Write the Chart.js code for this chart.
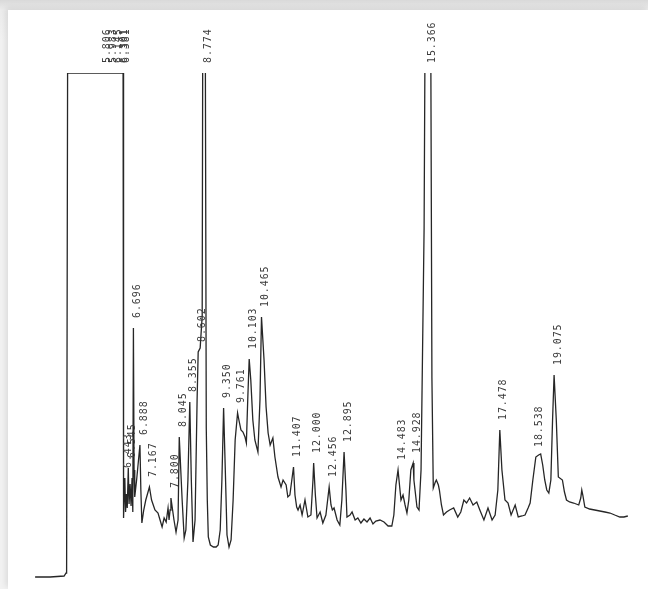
<!DOCTYPE html>
<html>
<head>
<meta charset="utf-8">
<script src="https://cdn.jsdelivr.net/npm/chart.js@4"></script>
<style>
  html, body { margin:0; padding:0; width:648px; height:589px; overflow:hidden; }
  body { background: linear-gradient(180deg, #d9d9d9 0px, #ececec 10px, #f2f2f2 40px); position:relative; }
  #panel { position:absolute; left:8px; top:10px; width:640px; height:579px; background:#fff;
           box-shadow: -2px -2px 6px rgba(0,0,0,0.10); }
  #c { position:absolute; left:0; top:0; }
</style>
</head>
<body>
<div id="panel"></div>
<canvas id="c" width="648" height="589"></canvas>
<script>
// Retention time (min)
const times = [
  3.803, 4.245, 4.656, 4.715, 4.730, 4.759, 6.362, 6.392,
  6.406, 6.421, 6.443, 6.465, 6.490, 6.515, 6.545, 6.568, 6.598, 6.627, 6.656, 6.678,
  6.696, 6.715, 6.735, 6.790, 6.888, 6.915, 6.945, 7.000, 7.060, 7.167, 7.230, 7.330,
  7.420, 7.480, 7.540, 7.600, 7.660, 7.715, 7.745, 7.775, 7.800, 7.890, 7.950, 8.010,
  8.045, 8.130, 8.190, 8.240, 8.300, 8.355, 8.400, 8.450, 8.510, 8.570, 8.602, 8.660,
  8.720, 8.745, 8.774, 8.800, 8.840, 8.870, 8.900, 8.960, 9.050, 9.130, 9.190, 9.250,
  9.300, 9.350, 9.400, 9.450, 9.510, 9.570, 9.630, 9.690, 9.761, 9.800, 9.860, 9.920,
  9.980, 10.020, 10.060, 10.103, 10.150, 10.210, 10.270, 10.360, 10.420, 10.465, 10.540, 10.600,
  10.660, 10.720, 10.800, 10.860, 10.950, 11.040, 11.100, 11.190, 11.240, 11.300, 11.407, 11.450,
  11.500, 11.540, 11.600, 11.660, 11.745, 11.830, 11.920, 11.980, 12.000, 12.050, 12.100, 12.190,
  12.270, 12.360, 12.456, 12.510, 12.550, 12.600, 12.690, 12.770, 12.830, 12.895, 12.950, 12.980,
  13.070, 13.130, 13.220, 13.300, 13.390, 13.480, 13.570, 13.660, 13.745, 13.830, 13.950, 14.070,
  14.190, 14.300, 14.360, 14.420, 14.483, 14.540, 14.570, 14.630, 14.690, 14.745, 14.800, 14.860,
  14.928, 14.950, 15.040, 15.100, 15.160, 15.250, 15.300, 15.366, 15.430, 15.480, 15.520, 15.580,
  15.610, 15.670, 15.700, 15.760, 15.820, 15.910, 16.000, 16.120, 16.240, 16.330, 16.420, 16.500,
  16.590, 16.690, 16.800, 16.890, 17.010, 17.130, 17.250, 17.340, 17.420, 17.478, 17.540, 17.630,
  17.720, 17.810, 17.930, 18.020, 18.130, 18.220, 18.310, 18.370, 18.450, 18.538, 18.620, 18.680,
  18.740, 18.800, 18.860, 18.920, 18.980, 19.030, 19.075, 19.140, 19.200, 19.320, 19.380, 19.440,
  19.530, 19.650, 19.800, 19.860, 19.890, 19.920, 19.980, 20.120, 20.270, 20.420, 20.570, 20.720,
  20.860, 21.010, 21.130, 21.245
];
// Detector response (arbitrary units)
const signal = [
  1, 1, 2, 5, 8, 505, 505, 505,
  60, 78, 100, 66, 84, 70, 110, 74, 94, 72, 100, 66,
  250, 108, 81, 98, 133, 88, 55, 68, 78, 91, 78, 68,
  65, 58, 51, 60, 56, 70, 58, 68, 80, 58, 46, 58,
  141, 78, 40, 48, 98, 176, 98, 36, 58, 178, 226, 230,
  262, 700, 800, 700, 150, 78, 41, 33, 31, 31, 33, 48,
  98, 170, 108, 43, 31, 38, 78, 138, 165, 158, 148, 146,
  141, 135, 178, 219, 198, 158, 138, 126, 178, 261, 218, 171,
  145, 133, 140, 121, 101, 91, 98, 93, 81, 83, 111, 83,
  71, 68, 73, 63, 78, 61, 63, 98, 115, 83, 60, 66,
  55, 63, 91, 73, 68, 70, 58, 53, 78, 126, 88, 61,
  63, 66, 58, 60, 55, 59, 56, 60, 54, 57, 58, 56,
  52, 52, 63, 93, 108, 88, 78, 83, 73, 65, 78, 108,
  115, 98, 71, 68, 108, 350, 700, 800, 700, 200, 90, 96,
  98, 93, 88, 73, 63, 66, 68, 70, 61, 66, 78, 75,
  80, 73, 76, 68, 58, 70, 58, 63, 88, 148, 108, 78,
  75, 63, 73, 61, 62, 63, 70, 75, 98, 121, 123, 124,
  113, 98, 88, 85, 98, 158, 203, 158, 101, 98, 86, 78,
  76, 75, 73, 80, 88, 83, 71, 69, 68, 67, 66, 65,
  63, 61, 61, 62
];
// Peak annotations
const peakTimes = [5.806, 5.983, 6.145, 6.301, 6.381,
  6.443, 6.545, 6.696, 6.888, 7.167, 7.800, 8.045, 8.355, 8.602, 8.774,
  9.350, 9.761, 10.103, 10.465, 11.407, 12.000, 12.456, 12.895,
  14.483, 14.928, 15.366, 17.478, 18.538, 19.075];
const peakLabels = ["5.806", "5.983", "6.145", "6.301", "6.381",
  "6.443", "6.545", "6.696", "6.888", "7.167", "7.800", "8.045", "8.355", "8.602", "8.774",
  "9.350", "9.761", "10.103", "10.465", "11.407", "12.000", "12.456", "12.895",
  "14.483", "14.928", "15.366", "17.478", "18.538", "19.075"];

const X_MIN = 3.8, X_MAX = 21.25, Y_MIN = 0, Y_MAX = 505;

function signalAt(t) {
  for (let i = 0; i < times.length - 1; i++) {
    if (t >= times[i] && t <= times[i + 1]) {
      const f = (t - times[i]) / (times[i + 1] - times[i]);
      return signal[i] + f * (signal[i + 1] - signal[i]);
    }
  }
  return 0;
}

const labelPlugin = {
  id: 'peakLabels',
  afterDatasetsDraw(chart) {
    const ctx = chart.ctx, xs = chart.scales.x, ys = chart.scales.y, area = chart.chartArea;
    ctx.save();
    ctx.font = '10px "DejaVu Sans Mono", monospace';
    if ('letterSpacing' in ctx) ctx.letterSpacing = '0.9px';
    ctx.fillStyle = '#3a3a3a';
    ctx.textAlign = 'left';
    ctx.textBaseline = 'middle';
    peakTimes.forEach((t, i) => {
      const px = xs.getPixelForValue(t);
      const py = Math.max(ys.getPixelForValue(signalAt(t)), area.top);
      ctx.save();
      ctx.translate(px + 4, py - 10);
      ctx.rotate(-Math.PI / 2);
      ctx.fillText(peakLabels[i], 0, 0);
      ctx.restore();
    });
    ctx.restore();
  }
};

new Chart(document.getElementById('c'), {
  type: 'line',
  data: {
    datasets: [{
      data: times.map((t, i) => ({ x: t, y: signal[i] })),
      borderColor: '#262626',
      borderWidth: 1.3,
      pointRadius: 0,
      tension: 0,
      fill: false
    }]
  },
  options: {
    responsive: false,
    animation: false,
    layout: { padding: { left: 35, right: 20, top: 73, bottom: 11 } },
    scales: {
      x: { type: 'linear', min: X_MIN, max: X_MAX, display: false },
      y: { type: 'linear', min: Y_MIN, max: Y_MAX, display: false }
    },
    plugins: { legend: { display: false }, tooltip: { enabled: false } }
  },
  plugins: [labelPlugin]
});
</script>
</body>
</html>
